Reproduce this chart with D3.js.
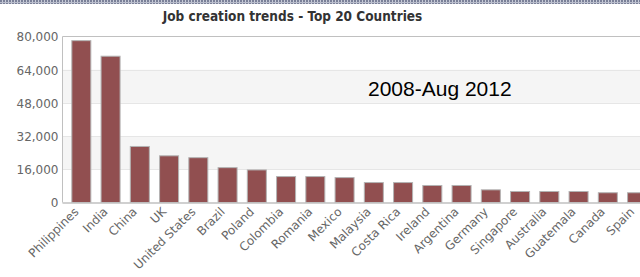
<!DOCTYPE html>
<html><head><meta charset="utf-8">
<script src="https://cdn.jsdelivr.net/npm/d3@7"></script>
<style>body{margin:0;background:#fff;overflow:hidden}svg{display:block}</style>
</head><body><svg id="c" width="640" height="277"></svg>
<script>
const categories = ["Philippines","India","China","UK","United States","Brazil","Poland","Colombia","Romania","Mexico","Malaysia","Costa Rica","Ireland","Argentina","Germany","Singapore","Australia","Guatemala","Canada","Spain"];
const jobs = [78000,70500,27000,22500,21600,16800,15700,12500,12500,12000,9600,9600,8200,8200,6100,5300,5300,5300,4700,4700];
const yTicks = [0,16000,32000,48000,64000,80000];
const title = "Job creation trends - Top 20 Countries";
const note = "2008-Aug 2012";

const svg = d3.select("#c");
const defs = svg.append("defs");
const pat = defs.append("pattern").attr("id","hdr").attr("width",3).attr("height",5).attr("patternUnits","userSpaceOnUse");
pat.append("rect").attr("width",3).attr("height",5).attr("fill","#7a8098");
pat.append("rect").attr("x",2).attr("width",1).attr("height",5).attr("fill","#c8ccd8");
pat.append("rect").attr("y",2).attr("width",3).attr("height",1).attr("fill","#b8bccb");
svg.append("rect").attr("x",0).attr("y",0).attr("width",640).attr("height",4).attr("fill","url(#hdr)");

const plotL = 62.5, plotT = 36.5, plotB = 202.5;
const x = d3.scaleBand().domain(categories).range([66.7, 651.7]).paddingInner(0.316).paddingOuter(0.158);
const y = d3.scaleLinear().domain([0,80000]).range([plotB, plotT]);

// alternate bands
for (let i = 0; i < yTicks.length-1; i++) {
  if (i % 2 === 1) {
    svg.append("rect").attr("x",plotL).attr("y",y(yTicks[i+1])).attr("width",700).attr("height",y(yTicks[i])-y(yTicks[i+1])).attr("fill","#f5f5f5");
  }
}
// grid
svg.append("g").selectAll("line").data(yTicks.slice(1,-1)).join("line")
  .attr("x1",plotL).attr("x2",700).attr("y1",d=>Math.round(y(d))+0.5).attr("y2",d=>Math.round(y(d))+0.5)
  .attr("stroke","#e6e6e6");
// top & left border
svg.append("line").attr("x1",plotL).attr("x2",700).attr("y1",plotT).attr("y2",plotT).attr("stroke","#c0c0c0");
svg.append("line").attr("x1",plotL).attr("x2",plotL).attr("y1",plotT).attr("y2",plotB).attr("stroke","#c0c0c0");

// bars
svg.append("g").selectAll("rect").data(jobs).join("rect")
  .attr("x",(d,i)=>x(categories[i])+0.5).attr("width",x.bandwidth()-1)
  .attr("y",d=>y(d)).attr("height",d=>plotB-y(d))
  .attr("fill","#914f50").attr("stroke","#b3b3b3").attr("stroke-width",1);

// x axis line
svg.append("line").attr("x1",plotL).attr("x2",700).attr("y1",plotB+0.5).attr("y2",plotB+0.5).attr("stroke","#c0c0c0").attr("stroke-width",1.5);

// y axis labels
const yAxis = d3.axisLeft(y).tickValues(yTicks).tickSize(0).tickPadding(4).tickFormat(d3.format(","));
const ya = svg.append("g").attr("transform",`translate(${plotL},0)`).call(yAxis);
ya.select(".domain").remove();
ya.selectAll("text").attr("font-family","DejaVu Sans").attr("font-size",12).attr("fill","#666").attr("dy","0.36em");

// x axis labels
const xAxis = d3.axisBottom(x).tickSize(0).tickPadding(0);
const xa = svg.append("g").attr("transform",`translate(0,${plotB})`).call(xAxis);
xa.select(".domain").remove();
xa.selectAll("text").attr("font-family","DejaVu Sans").attr("font-size",12).attr("fill","#666")
  .attr("text-anchor","end").attr("dy",null).attr("y",null)
  .attr("transform","translate(-2,10) rotate(-45)");

// title
svg.append("text").attr("x",292.5).attr("y",20.5).attr("text-anchor","middle")
  .attr("font-family","DejaVu Sans Condensed").attr("font-weight","bold").attr("font-size",13.5).attr("fill","#333").text(title);

// note
svg.append("text").attr("x",368).attr("y",95.7).attr("font-family","Liberation Sans").attr("font-size",21).attr("fill","#000").text(note);
</script></body></html>
